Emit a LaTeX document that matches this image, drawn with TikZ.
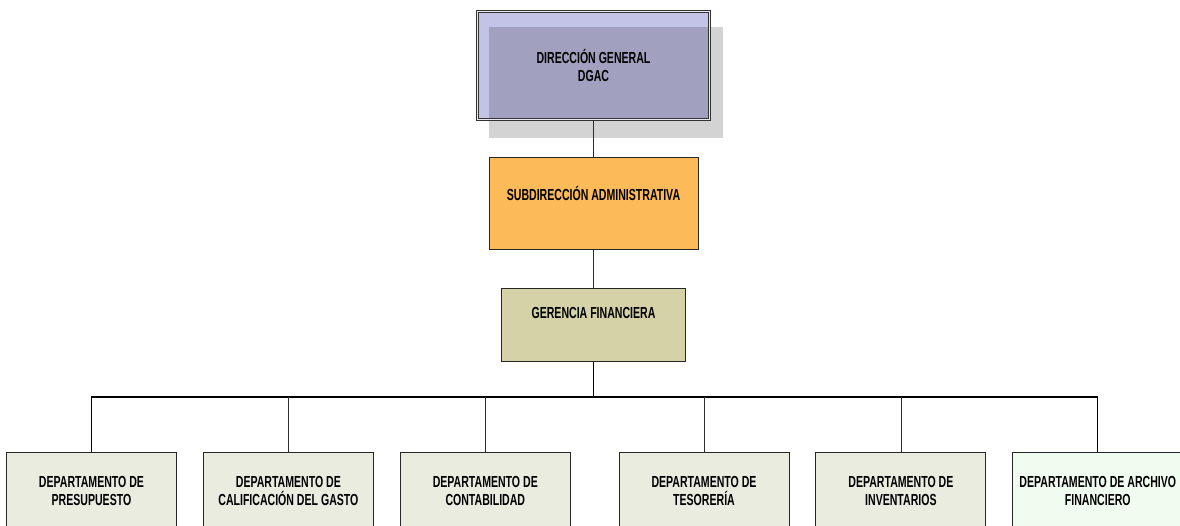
\documentclass[tikz,border=0pt]{standalone}
\usepackage{fontspec}
\setmainfont[FakeStretch=0.66]{Liberation Sans}
\usepackage{tikz}
\usetikzlibrary{positioning}

\definecolor{lavender}{RGB}{195,195,232}
\definecolor{shadowgray}{RGB}{211,211,211}
\definecolor{orangebox}{RGB}{253,186,88}
\definecolor{khaki}{RGB}{214,210,167}
\definecolor{deptfill}{RGB}{234,236,224}
\definecolor{archfill}{RGB}{241,252,240}
\definecolor{linegray}{RGB}{45,45,45}

\begin{document}
\begin{tikzpicture}[x=1pt, y=1pt,
    box/.style={rectangle, draw=black!85, line width=0.9pt, inner sep=0pt, align=center,
                font=\bfseries\fontsize{16}{18.5}\selectfont},
    dept/.style={box, fill=deptfill, minimum width=170pt, minimum height=78pt},
    link/.style={draw=linegray, line width=0.8pt}]

    \useasboundingbox (0,0) rectangle (1180,525);
    \clip (0,0) rectangle (1180,525);

    % shadow behind the top box
    \fill[shadowgray] (489,498) rectangle (723,387);

    \node[box, preaction={fill=lavender, blend mode=multiply}, draw=black!80, double=lavender!40!white,
          line width=0.7pt, double distance=1.5pt,
          minimum width=232pt, minimum height=108pt]    (dgac)  at (593.5,459.5)  {DIRECCIÓN GENERAL\\DGAC};

    \node[box, fill=orangebox, minimum width=209pt, minimum height=92pt, text depth=20pt]
                                                       (subdir) [below=37pt of dgac]    {SUBDIRECCIÓN ADMINISTRATIVA};
    \node[box, fill=khaki, minimum width=184pt, minimum height=73pt, text depth=23pt]
                                                       (gerfin) [below=38pt of subdir]  {GERENCIA FINANCIERA};

    \coordinate (bus) at (593.5,128);

    \node[dept]                  (presup)  at (91.5,34)          {DEPARTAMENTO DE\\PRESUPUESTO};
    \node[dept]                  (calif)   [right=26pt of presup] {DEPARTAMENTO DE\\CALIFICACIÓN DEL GASTO};
    \node[dept]                  (contab)  [right=26pt of calif]  {DEPARTAMENTO DE\\CONTABILIDAD};
    \node[dept]                  (tesor)   at (704,34)           {DEPARTAMENTO DE\\TESORERÍA};
    \node[dept]                  (invent)  [right=26pt of tesor]  {DEPARTAMENTO DE\\INVENTARIOS};
    \node[dept, fill=archfill]   (archivo) [right=26pt of invent] {DEPARTAMENTO DE ARCHIVO\\FINANCIERO};

    \path[link] (dgac)   -- (subdir)
                (subdir) -- (gerfin);
    \draw[black, line width=1.8pt] (gerfin) -- (bus);
    \draw[black, line width=1.2pt] (presup.north) |- (bus) -| (archivo.north);
    \draw[link] (calif.north)  -- (calif.north |- bus)
                (contab.north) -- (contab.north |- bus)
                (tesor.north)  -- (tesor.north |- bus)
                (invent.north) -- (invent.north |- bus);

\end{tikzpicture}
\end{document}
